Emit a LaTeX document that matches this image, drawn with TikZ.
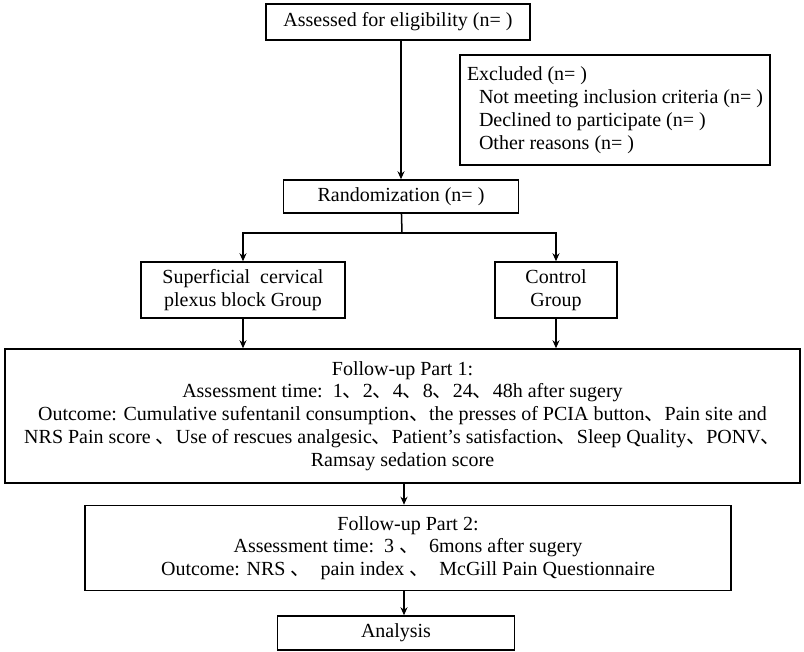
\documentclass[tikz,border=0pt]{standalone}
\usepackage{fontspec}
\setmainfont{Liberation Serif}
\newfontfamily\cjk{Noto Sans CJK SC}
\usepackage{tikz}
\usetikzlibrary{arrows.meta}

\newcommand{\dun}{{\cjk 、}}

\begin{document}
\begin{tikzpicture}[x=0.5pt, y=-0.5pt,
    box/.style={draw, line width=0.75pt, align=center, inner sep=2pt, font=\fontsize{10}{11.4}\selectfont},
    arr/.style={-{Stealth[length=4pt, width=3.5pt]}, line width=0.75pt}]
    \useasboundingbox (0,0) rectangle (804,652);

    % Draw boxes
    \node[box, minimum width=132pt, minimum height=18pt] (assess) at (398,22) {Assessed for eligibility (n= )};
    \node[box, minimum height=55pt, align=left, inner xsep=3.5pt] (excl) at (615,110)
      {Excluded (n= )\\
       \hspace*{6pt}Not meeting inclusion criteria (n= )\\
       \hspace*{6pt}Declined to participate (n= )\\
       \hspace*{6pt}Other reasons (n= )};
    \node[box, minimum width=117.5pt, minimum height=16.5pt] (rand) at (401,196.5) {Randomization (n= )};
    \node[box, minimum width=102pt, minimum height=28pt] (scpb) at (243,290) {Superficial\ \ cervical\\plexus block Group};
    \node[box, minimum width=61pt, minimum height=28pt] (ctrl) at (556,290) {Control\\Group};
    \node[box, minimum width=397.5pt, minimum height=67pt] (fu1) at (402.5,416)
      {Follow-up Part 1:\\
       Assessment time:\ \ 1\dun 2\dun 4\dun 8\dun 24\dun 48h after sugery\\
       Outcome: Cumulative sufentanil consumption\dun the presses of PCIA button\dun Pain site and\\
       NRS Pain score \dun Use of rescues analgesic\dun Patient’s satisfaction\dun Sleep Quality\dun PONV\dun\\
       Ramsay sedation score};
    \node[box, minimum width=323pt, minimum height=42.5pt] (fu2) at (408,548)
      {Follow-up Part 2:\\
       Assessment time:\ \ 3 \dun\ \ 6mons after sugery\\
       Outcome: NRS \dun\ \ pain index \dun\ \ McGill Pain Questionnaire};
    \node[box, minimum width=118.5pt, minimum height=17pt] (anal) at (396,633) {Analysis};

    % Draw connectors
    \coordinate (split) at (402,233);
    \draw[arr] (assess.south -| rand) -- (rand.north);
    \draw[line width=0.75pt] (rand) -- (split);
    \draw[arr] (split) -| (scpb.north);
    \draw[arr] (split) -| (ctrl.north);
    \draw[arr] (scpb) -- (scpb |- fu1.north);
    \draw[arr] (ctrl) -- (ctrl |- fu1.north);
    \draw[arr] (fu1.south -| 404,0) -- (404,0 |- fu2.north);
    \draw[arr] (fu2.south -| 404,0) -- (404,0 |- anal.north);
\end{tikzpicture}
\end{document}
